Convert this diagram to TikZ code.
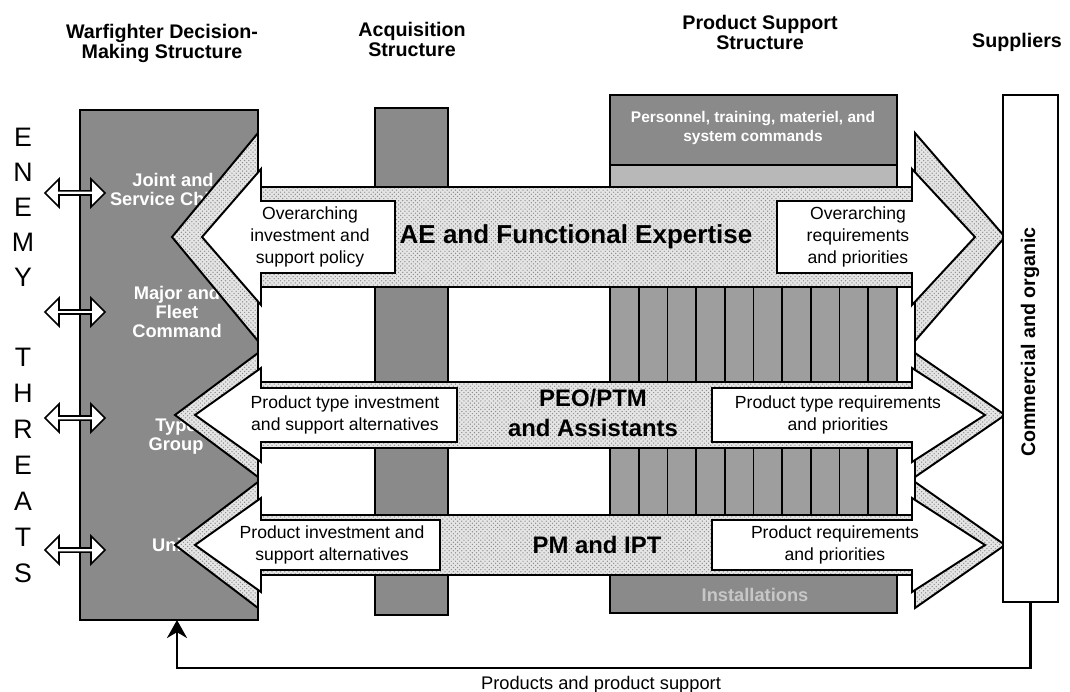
\documentclass[tikz,border=0pt]{standalone}
\usepackage{fontspec}
\setmainfont{Liberation Sans}
\usetikzlibrary{arrows.meta,patterns,shapes.arrows}

\begin{document}
\begin{tikzpicture}[x=0.25mm, y=-0.25mm,
    >={Stealth[length=4.5mm,width=5mm]}, % Rueckfuehrungspfeil
    Kopf/.style={font=\bfseries\fontsize{14}{14.2}\selectfont, align=center},
    Titel/.style={font=\bfseries\fontsize{17}{21}\selectfont, align=center},
    Info/.style={font=\fontsize{12.5}{15.5}\selectfont, align=center},
    Stelle/.style={text=white, font=\bfseries\fontsize{13}{13.5}\selectfont, align=center},
    Spalte/.style={draw, line width=1.4pt, fill=black!46},
    Band/.style={draw, line width=1.4pt, preaction={fill=black!10},
        pattern=crosshatch dots, pattern color=black!45},
    Feld/.style={draw, line width=1.4pt, fill=white},
    Buchstabe/.style={font=\fontsize{19}{19}\selectfont},
    Doppel/.style={double arrow, draw, line width=1.2pt, fill=white,
        minimum height=15mm, minimum width=7mm,
        double arrow head extend=1.2mm, inner sep=0pt}
    ]
    \useasboundingbox (0,0) rectangle (1070,692);

    % Ueberschriften
    \node[Kopf] (K1) at (162,43) {Warfighter Decision-\\Making Structure};
    \node[Kopf] (K2) at (412,39) {Acquisition\\Structure};
    \node[Kopf] (K3) at (760,32) {Product Support\\Structure};
    \node[Kopf] (K4) at (1017,42) {Suppliers};

    % Spalten
    \node[Spalte, minimum width=44.5mm, minimum height=127.5mm, outer sep=0pt] (WF) at (169,365) {};
    \draw[Feld] (258,187) rectangle (915,575);
    \draw[Spalte] (375,108) rectangle (448,615);
    \draw[Spalte] (610,95) rectangle (897,613);
    \draw[line width=1.4pt, fill=black!28] (610,165) rectangle (897,187);
    \foreach \ya/\yb in {287/382, 448/515} {
        \fill[black!38] (610,\ya) rectangle (897,\yb);
        \foreach \i in {0,...,10}
            \draw[line width=1.2pt] ({610+28.7*\i},\ya) -- ({610+28.7*\i},\yb);
    }

    \node[Stelle, font=\bfseries\fontsize{11}{13}\selectfont] (PSo) at (753,128)
        {Personnel, training, materiel, and\\system commands};
    \node[Stelle, text=black!22] (PSu) at (755,595) {Installations};

    \node[Stelle] (WF1) at (173,189) {Joint and\\Service Chiefs};
    \node[Stelle] (WF2) at (177,312) {Major and\\Fleet\\Command};
    \node[Stelle] (WF3) at (176,437) {Type\\Group};
    \node[Stelle] (WF4) at (170,545) {Unit};

    % Blockpfeile: Mitte/Schaft/Kopf/Feld/Feldkopf/Spitzen/Einzug/Feldgrenzen
    \foreach \cy/\h/\H/\hi/\Hi/\lt/\rt/\d/\Lr/\Rl in
        {237/50/104/36/68/172/1005/30/395/777,
         415/33/62/27/47/175/1005/20/457/712,
         545/30/63/25/47/175/1005/20/440/712} {
        \draw[Band] (\lt,\cy) -- (258,\cy-\H) -- (258,\cy-\h) -- (915,\cy-\h)
            -- (915,\cy-\H) -- (\rt,\cy) -- (915,\cy+\H) -- (915,\cy+\h)
            -- (258,\cy+\h) -- (258,\cy+\H) -- cycle;
        \draw[Feld] (\lt+\d,\cy) -- (261,\cy-\Hi) -- (261,\cy-\hi) -- (\Lr,\cy-\hi)
            -- (\Lr,\cy+\hi) -- (261,\cy+\hi) -- (261,\cy+\Hi) -- cycle;
        \draw[Feld] (\Rl,\cy-\hi) -- (912,\cy-\hi) -- (912,\cy-\Hi) -- (\rt-\d,\cy)
            -- (912,\cy+\Hi) -- (912,\cy+\hi) -- (\Rl,\cy+\hi) -- cycle;
    }

    \node[Titel, font=\bfseries\fontsize{18.5}{21}\selectfont] (T1) at (576,237) {AE and Functional Expertise};
    \node[Titel] (T2) at (593,413) {PEO/PTM\\and Assistants};
    \node[Titel] (T3) at (597,545) {PM and IPT};

    \node[Info] (L1) at (310,237) {Overarching\\investment and\\support policy};
    \node[Info] (R1) at (858,237) {Overarching\\requirements\\and priorities};
    \node[Info] (L2) at (345,415) {Product type investment\\and support alternatives};
    \node[Info] (R2) at (838,415) {Product type requirements\\and priorities};
    \node[Info] (L3) at (332,545) {Product investment and\\support alternatives};
    \node[Info] (R3) at (835,545) {Product requirements\\and priorities};

    % Lieferanten
    \node[draw, line width=1.4pt, fill=white, minimum width=13.75mm,
        minimum height=126.75mm, outer sep=0pt] (Lief) at (1030.5,348.5) {};
    \node[rotate=90, font=\bfseries\fontsize{14}{14}\selectfont] (LiefT) at (1030,342)
        {Commercial and organic};

    % Bedrohung
    \foreach \b [count=\i from 0] in {E,N,E,M,Y}
        \node[Buchstabe] (Feind\i) at (23,137+35*\i) {\b};
    \foreach \b [count=\i from 0] in {T,H,R,E,A,T,S}
        \node[Buchstabe] (Gefahr\i) at (23,357+36*\i) {\b};
    \foreach \y [count=\i] in {193,312,418,550}
        \node[Doppel] (Dp\i) at (75,\y) {};

    % Rueckfuehrung
    \draw[line width=2pt, ->] (Lief.south) -- ++(0,66) -| ([xshift=2mm]WF.south);
    \node[font=\fontsize{13}{13}\selectfont] (Rueck) at (601,685) {Products and product support};
\end{tikzpicture}
\end{document}
